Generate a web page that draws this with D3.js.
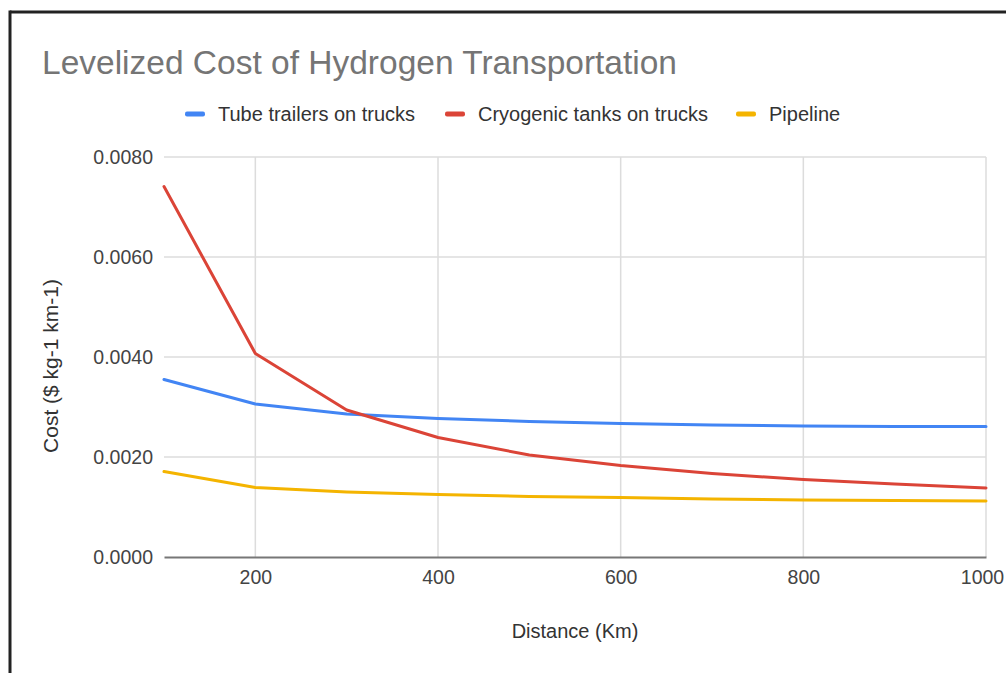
<!DOCTYPE html>
<html>
<head>
<meta charset="utf-8">
<script src="https://cdn.jsdelivr.net/npm/d3@7"></script>
<style>
  html, body { margin: 0; padding: 0; background: #fff; overflow: hidden; }
  svg { display: block; font-family: "Liberation Sans", Arial, sans-serif; }
</style>
</head>
<body>
<svg id="chart" width="1006" height="673"></svg>
<script>
const title = "Levelized Cost of Hydrogen Transportation";
const xTitle = "Distance (Km)";
const yTitle = "Cost ($ kg-1 km-1)";
const distances = [100, 200, 300, 400, 500, 600, 700, 800, 900, 1000];
const seriesNames = ["Tube trailers on trucks", "Cryogenic tanks on trucks", "Pipeline"];
const seriesColors = ["#4285F4", "#DB4437", "#F4B400"];
const tubeTrailers = [0.00355, 0.00306, 0.00286, 0.00277, 0.00271, 0.00267, 0.00264, 0.00262, 0.00261, 0.00261];
const cryogenicTanks = [0.00741, 0.00407, 0.00294, 0.00239, 0.00204, 0.00183, 0.00167, 0.00155, 0.00146, 0.00138];
const pipeline = [0.00171, 0.00139, 0.00130, 0.00125, 0.00121, 0.00119, 0.00116, 0.00114, 0.00113, 0.00112];
const xTicks = [200, 400, 600, 800, 1000];
const yTicks = [0, 0.002, 0.004, 0.006, 0.008];

const svg = d3.select("#chart");
const pLeft = 164, pRight = 986, pTop = 157, pBottom = 557;

const x = d3.scaleLinear().domain([100, 1000]).range([pLeft, pRight]);
const y = d3.scaleLinear().domain([0, 0.008]).range([pBottom, pTop]);

// frame
svg.append("line").attr("x1", 10).attr("x2", 1006).attr("y1", 12).attr("y2", 12)
  .attr("stroke", "#222").attr("stroke-width", 3);
svg.append("line").attr("x1", 10).attr("x2", 10).attr("y1", 10.5).attr("y2", 673)
  .attr("stroke", "#222").attr("stroke-width", 3);

// title
svg.append("text").attr("x", 42).attr("y", 74).text(title)
  .attr("font-size", 33.5).attr("fill", "#757575");

// gridlines
const g = svg.append("g");
g.selectAll("line.hg").data(yTicks.filter(d => d > 0)).enter().append("line")
  .attr("x1", pLeft).attr("x2", pRight).attr("y1", d => y(d)).attr("y2", d => y(d))
  .attr("stroke", "#dcdcdc").attr("stroke-width", 1.5);
g.selectAll("line.vg").data(xTicks).enter().append("line")
  .attr("x1", d => x(d)).attr("x2", d => x(d)).attr("y1", pTop).attr("y2", pBottom)
  .attr("stroke", "#dcdcdc").attr("stroke-width", 1.5);

// y axis
const yAxis = d3.axisLeft(y).tickValues(yTicks).tickSize(0).tickPadding(11)
  .tickFormat(d3.format(".4f"));
const ya = svg.append("g").attr("transform", `translate(${pLeft},0)`).call(yAxis);
ya.select(".domain").remove();
ya.selectAll("text").attr("font-size", 19.5).attr("fill", "#444")
  .attr("font-family", "Liberation Sans, Arial, sans-serif");

// x axis
const xAxis = d3.axisBottom(x).tickValues(xTicks).tickSize(0).tickPadding(13)
  .tickFormat(d3.format("d"));
const xa = svg.append("g").attr("transform", `translate(0,${pBottom})`).call(xAxis);
xa.select(".domain").attr("stroke", "#777").attr("stroke-width", 2);
xa.selectAll("text").attr("font-size", 19.5).attr("fill", "#444")
  .attr("font-family", "Liberation Sans, Arial, sans-serif")
  .attr("dx", d => d === 1000 ? -4 : 0);

// axis titles
svg.append("text").attr("x", (pLeft + pRight) / 2).attr("y", 638).attr("text-anchor", "middle")
  .text(xTitle).attr("font-size", 20).attr("fill", "#333");
svg.append("text").attr("transform", "translate(58,366) rotate(-90)").attr("text-anchor", "middle")
  .text(yTitle).attr("font-size", 21).attr("fill", "#333");

// lines
const series = [tubeTrailers, cryogenicTanks, pipeline];
const line = d3.line().x((d, i) => x(distances[i])).y(d => y(d));
[2, 0, 1].forEach(k => {
  svg.append("path").datum(series[k]).attr("d", line)
    .attr("fill", "none").attr("stroke", seriesColors[k]).attr("stroke-width", 3)
    .attr("stroke-linejoin", "round").attr("stroke-linecap", "round");
});

// legend
const legendX = [185, 445, 736];
const lg = svg.append("g");
seriesNames.forEach((name, i) => {
  lg.append("rect").attr("x", legendX[i]).attr("y", 111.5).attr("width", 20).attr("height", 5)
    .attr("rx", 2).attr("fill", seriesColors[i]);
  lg.append("text").attr("x", legendX[i] + 33).attr("y", 121).text(name)
    .attr("font-size", 20).attr("fill", "#333");
});
</script>
</body>
</html>
